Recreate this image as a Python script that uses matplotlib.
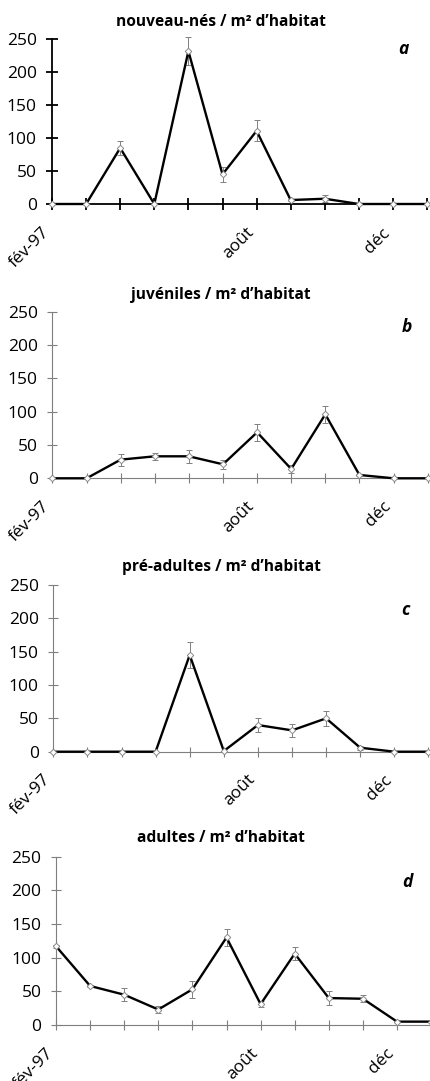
import matplotlib
matplotlib.use("Agg")
import matplotlib.pyplot as plt
import matplotlib.transforms as mtransforms

plt.rcParams['font.family'] = ['Open Sans', 'DejaVu Sans']

months = list(range(12))
tick_labels = {0: "fév-97", 6: "août", 10: "déc"}

titles = ["nouveau-nés / m² d’habitat", "juvéniles / m² d’habitat",
          "pré-adultes / m² d’habitat", "adultes / m² d’habitat"]
letters = ["a", "b", "c", "d"]

nouveau_nes = [0, 0, 85, 0, 232, 45, 111, 6, 8, 0, 0, 0]
nouveau_nes_err = [0, 0, 11, 0, 21, 11, 16, 2, 5, 0, 0, 0]
juveniles = [0, 0, 28, 33, 33, 21, 69, 14, 96, 5, 0, 0]
juveniles_err = [0, 0, 9, 5, 10, 7, 13, 6, 13, 2, 0, 0]
pre_adultes = [0, 0, 0, 0, 145, 1, 40, 32, 50, 6, 0, 0]
pre_adultes_err = [0, 0, 0, 0, 19, 0, 11, 10, 11, 3, 0, 0]
adultes = [117, 58, 45, 23, 53, 130, 31, 106, 40, 39, 5, 5]
adultes_err = [2, 2, 10, 5, 13, 12, 5, 10, 10, 5, 1, 1]

series = [(nouveau_nes, nouveau_nes_err), (juveniles, juveniles_err),
          (pre_adultes, pre_adultes_err), (adultes, adultes_err)]

W, H = 431, 1081
fig = plt.figure(figsize=(W / 100, H / 100), dpi=100)

# axes placement in pixels: (left, zero_y, top_y)
placements = [(52, 204, 39.3), (52.5, 478.3, 311.7), (53.3, 751.7, 585), (56, 1025, 856.7)]
title_y = [21.7, 295, 566.7, 838]
letter_pos = [(403, 49), (407, 326.7), (405, 610), (407, 881.7)]
px_per_unit = 34.1
xmax = 11.08

for i, ((vals, errs), (left, zy, ty)) in enumerate(zip(series, placements)):
    width = px_per_unit * xmax
    ax = fig.add_axes([left / W, 1 - zy / H, width / W, (zy - ty) / H])
    first = (i == 0)
    axcol = 'black' if first else '#7f7f7f'
    lw_ax = 1.3 if first else 0.8
    for s in ['top', 'right']:
        ax.spines[s].set_visible(False)
    for s in ['left', 'bottom']:
        ax.spines[s].set_color(axcol)
        ax.spines[s].set_linewidth(lw_ax)
    ax.set_xlim(0, xmax)
    ax.set_ylim(0, 250)
    ax.set_yticks([0, 50, 100, 150, 200, 250])
    ax.set_xticks(months)
    ax.set_xticklabels([tick_labels.get(m, "") for m in months])
    ax.tick_params(axis='both', direction='inout', length=8 if first else 7,
                   width=lw_ax, color=axcol, labelsize=12.5, labelcolor='black')
    ax.tick_params(axis='y', pad=7)
    ax.tick_params(axis='x', pad=15)
    offset = mtransforms.ScaledTranslation(-5 / 100, 0, fig.dpi_scale_trans)
    for lab in ax.get_xticklabels():
        lab.set_rotation(45)
        lab.set_ha('right')
        lab.set_va('center')
        lab.set_rotation_mode('anchor')
        lab.set_transform(lab.get_transform() + offset)
    ax.set_facecolor('none')
    ax.errorbar(months, vals, yerr=errs, fmt='none', ecolor='#808080',
                elinewidth=0.7, capsize=2.5, capthick=0.7, clip_on=False, zorder=2)
    ax.plot(months, vals, color='black', lw=1.7, marker='D', markersize=3.3,
            markerfacecolor='white', markeredgecolor='#8a8a8a', markeredgewidth=0.7,
            clip_on=False, zorder=3)
    fig.text(221 / W, 1 - title_y[i] / H, titles[i], ha='center', va='center',
             fontsize=11.2, fontweight='bold')
    lx, ly = letter_pos[i]
    fig.text(lx / W, 1 - ly / H, letters[i], ha='center', va='center',
             fontsize=12.5, fontweight='bold', fontstyle='italic')

fig.savefig("out.png", dpi=100)
